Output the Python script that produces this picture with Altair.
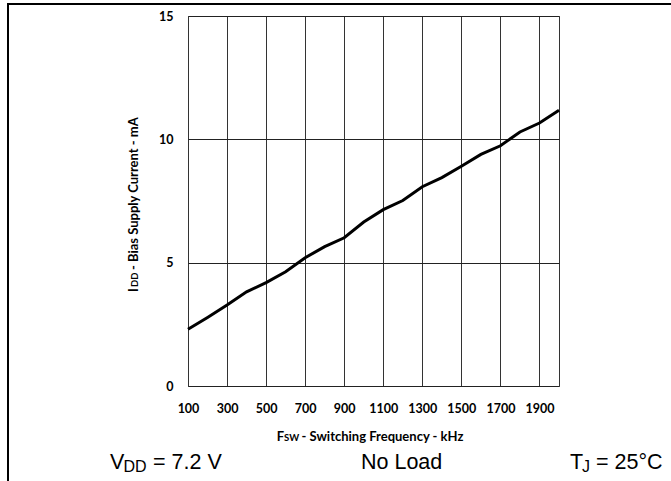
import altair as alt
import pandas as pd

# ---- data ----
freq_khz = [100, 200, 300, 400, 500, 600, 700, 800, 900, 1000,
            1100, 1200, 1300, 1400, 1500, 1600, 1700, 1800, 1900, 2000]
idd_ma = [2.30, 2.78, 3.28, 3.82, 4.19, 4.63, 5.20, 5.65, 6.01, 6.65,
          7.15, 7.52, 8.08, 8.45, 8.91, 9.39, 9.74, 10.30, 10.66, 11.18]
x_tick_values = [100, 300, 500, 700, 900, 1100, 1300, 1500, 1700, 1900]
y_tick_values = [0, 5, 10, 15]

# text pieces (label, subscript parts kept as real text)
x_title_parts = ["F", "SW", "- Switching Frequency - kHz"]
y_title_parts = ["I", "DD", "- Bias Supply Current - mA"]
cond_vdd = ["V", "DD", "= 7.2 V"]
cond_load = ["No Load"]
cond_tj = ["T", "J", "= 25°C"]

df = pd.DataFrame({"freq": freq_khz, "idd": idd_ma})

W, H = 371, 370
OX, OY = 188, 16  # plot origin inside the 671x481 page


def piece(txt, xa, ya, size, font, weight="normal", angle=0):
    return alt.Chart(pd.DataFrame({"t": [txt]})).mark_text(
        align="left", baseline="alphabetic", font=font, fontSize=size,
        fontWeight=weight, angle=angle, color="black"
    ).encode(text="t:N", x=alt.value(xa - OX), y=alt.value(ya - OY))


line = alt.Chart(df).mark_line(color="black", strokeWidth=3).encode(
    x=alt.X("freq:Q",
            scale=alt.Scale(domain=[100, 2000], nice=False, zero=False),
            axis=alt.Axis(values=x_tick_values, title=None, grid=True, format="d",
                          gridColor="#333333", gridWidth=1, domain=False,
                          ticks=False, labelFont="Lato", labelFontWeight="bold",
                          labelFontSize=12.5, labelColor="black",
                          labelPadding=16, labelFlush=False)),
    y=alt.Y("idd:Q",
            scale=alt.Scale(domain=[0, 15], nice=False),
            axis=alt.Axis(values=y_tick_values, title=None, grid=True, format="d",
                          gridColor="#222222", gridWidth=1, domain=False,
                          ticks=False, labelFont="Lato", labelFontWeight="bold",
                          labelFontSize=12.5, labelColor="black",
                          labelPadding=15, labelFlush=False)),
)

frame_left = alt.Chart(pd.DataFrame({"a": [0]})).mark_rule(
    color="black", strokeWidth=2).encode(
    x=alt.value(8 - OX), y=alt.value(3 - OY), y2=alt.value(481 - OY))
frame_top = alt.Chart(pd.DataFrame({"a": [0]})).mark_rule(
    color="black", strokeWidth=2).encode(
    x=alt.value(7 - OX), x2=alt.value(671 - OX), y=alt.value(4 - OY))

texts = [
    piece(x_title_parts[0], 276.7, 441, 13, "Lato", "bold"),
    piece(x_title_parts[1], 284, 441, 9.5, "Lato", "bold"),
    piece(x_title_parts[2], 301.5, 441, 13, "Lato", "bold"),
    piece(y_title_parts[0], 137.5, 292, 13, "Lato", "bold", 270),
    piece(y_title_parts[1], 137.5, 287, 9.5, "Lato", "bold", 270),
    piece(y_title_parts[2], 137.5, 270, 13, "Lato", "bold", 270),
    piece(cond_vdd[0], 110, 469.3, 21.5, "Liberation Sans"),
    piece(cond_vdd[1], 123.5, 472, 16, "Liberation Sans"),
    piece(cond_vdd[2], 153, 469.3, 21.5, "Liberation Sans"),
    piece(cond_load[0], 361, 469.3, 21.5, "Liberation Sans"),
    piece(cond_tj[0], 570, 469.3, 21.5, "Liberation Sans"),
    piece(cond_tj[1], 582, 472, 16, "Liberation Sans"),
    piece(cond_tj[2], 596, 469.3, 21.5, "Liberation Sans"),
]

chart = alt.layer(line, frame_left, frame_top, *texts).properties(
    width=W, height=H,
    autosize=alt.AutoSizeParams(type="none"),
    padding={"left": OX, "top": OY, "right": 671 - OX - W, "bottom": 481 - OY - H},
    background="white",
).configure_view(stroke="#333333", strokeWidth=1)

chart.save("out.html", embed_options={"renderer": "svg", "actions": False})
